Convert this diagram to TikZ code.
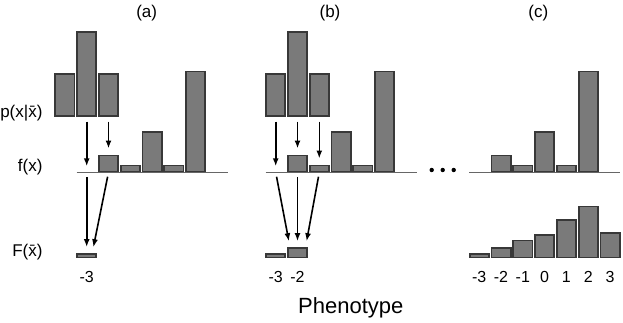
\documentclass[tikz,border=0pt]{standalone}
\usepackage{fontspec}
\setmainfont{Liberation Sans}
\usetikzlibrary{positioning,arrows.meta}

\begin{document}
\begin{tikzpicture}[x=1pt, y=-1pt, >={Latex[length=8pt,width=6pt]},
	font=\fontsize{17}{19}\selectfont,
	bar/.style={draw=black!78, fill=black!52, line width=1.8pt, minimum width=19.2pt, inner sep=0pt, anchor=south},
	axis/.style={draw=black!60, line width=1.6pt},
	flow/.style={->, line width=1.6pt, shorten <=4.5pt, shorten >=6pt},
	tick/.style={font=\fontsize{16}{18}\selectfont},
	dot/.style={circle, fill=black, inner sep=0pt, minimum size=4.4pt}]
	\useasboundingbox (0,0) rectangle (623,322);

	% row labels
	\node[anchor=east] (plab) at (46,113) {p(x|\=x)};
	\node[anchor=east] (flab) at (46,167) {f(x)};
	\node[anchor=east] (Flab) at (46,252) {F(\=x)};

	% panel titles
	\node (ta) at (146.7,13) {(a)};
	\node (tb) at (330,13) {(b)};
	\node (tc) at (538.3,13) {(c)};

	% (a): slot k sits at 152.1+21.8k
	\foreach \k/\h [count=\i] in {-4/42, -3/84.5, -2/42}
		\node[bar, minimum height=\h] (pa\i) at ({152.1+21.8*\k},117) {};
	\draw[axis] (76.7,172.3) -- (227.7,172.3);
	\coordinate (fa1) at (86.7,172.3);
	\foreach \k/\h [count=\i from 2] in {-2/16, -1/6, 0/39.4, 1/6, 2/100}
		\node[bar, minimum height=\h] (fa\i) at ({152.1+21.8*\k},172.3) {};
	\node[bar, minimum height=3.5] (Fa1) at (86.7,258.4) {};
	\node[tick] (xa1) at (86.7,277) {-3};

	\draw[flow] (pa2.south) -- (fa1);
	\draw[flow] (pa3.south) -- (fa2.north);
	\draw[flow] (fa1) -- (Fa1.north);
	\draw[flow] (fa2.south) -- ([xshift=5.5pt]Fa1.north);

	% (b): slot k sits at 341.1+21.8k
	\foreach \k/\h [count=\i] in {-3/42, -2/84.5, -1/42}
		\node[bar, minimum height=\h] (pb\i) at ({341.1+21.8*\k},117) {};
	\draw[axis] (265.7,172.3) -- (416.5,172.3);
	\coordinate (fb1) at (275.7,172.3);
	\foreach \k/\h [count=\i from 2] in {-2/16, -1/6, 0/39.4, 1/6, 2/100}
		\node[bar, minimum height=\h] (fb\i) at ({341.1+21.8*\k},172.3) {};
	\node[bar, minimum height=3.5] (Fb1) at (275.7,258.4) {};
	\node[bar, minimum height=9.5] (Fb2) at (297.5,258.4) {};
	\node[tick] (xb1) at (275.7,277) {-3};
	\node[tick] (xb2) at (297.5,277) {-2};

	\draw[flow] (pb1.south) -- (fb1);
	\draw[flow] (pb2.south) -- (fb2.north);
	\draw[flow] (pb3.south) -- (fb3.north);
	\draw[flow] (fb1) -- ([xshift=-7.5pt]Fb2.north);
	\draw[flow] (fb2.south) -- (Fb2.north);
	\draw[flow] (fb3.south) -- ([xshift=8pt]Fb2.north);

	% dots between (b) and (c)
	\node[dot] (d1) at (431.7,170) {};
	\node[dot] (d2) at (442.7,170) {};
	\node[dot] (d3) at (453.7,170) {};

	% (c): slot k sits at 544.6+21.8k
	\draw[axis] (469.2,172.3) -- (620,172.3);
	\foreach \k/\h [count=\i from 2] in {-2/16, -1/6, 0/39.4, 1/6, 2/100}
		\node[bar, minimum height=\h] (fc\i) at ({544.6+21.8*\k},172.3) {};
	\foreach \k/\h [count=\i] in {-3/3.5, -2/9.5, -1/17, 0/22.8, 1/37.8, 2/51, 3/24.5}
		\node[bar, minimum height=\h] (Fc\i) at ({544.6+21.8*\k},258.4) {};
	\foreach \k [count=\i] in {-3,-2,-1,0,1,2,3}
		\node[tick] (xc\i) at ({544.6+21.8*\k},277) {\k};

	\node[anchor=base, font=\fontsize{22}{24}\selectfont] (phen) at (350.8,313.5) {Phenotype};
\end{tikzpicture}
\end{document}
